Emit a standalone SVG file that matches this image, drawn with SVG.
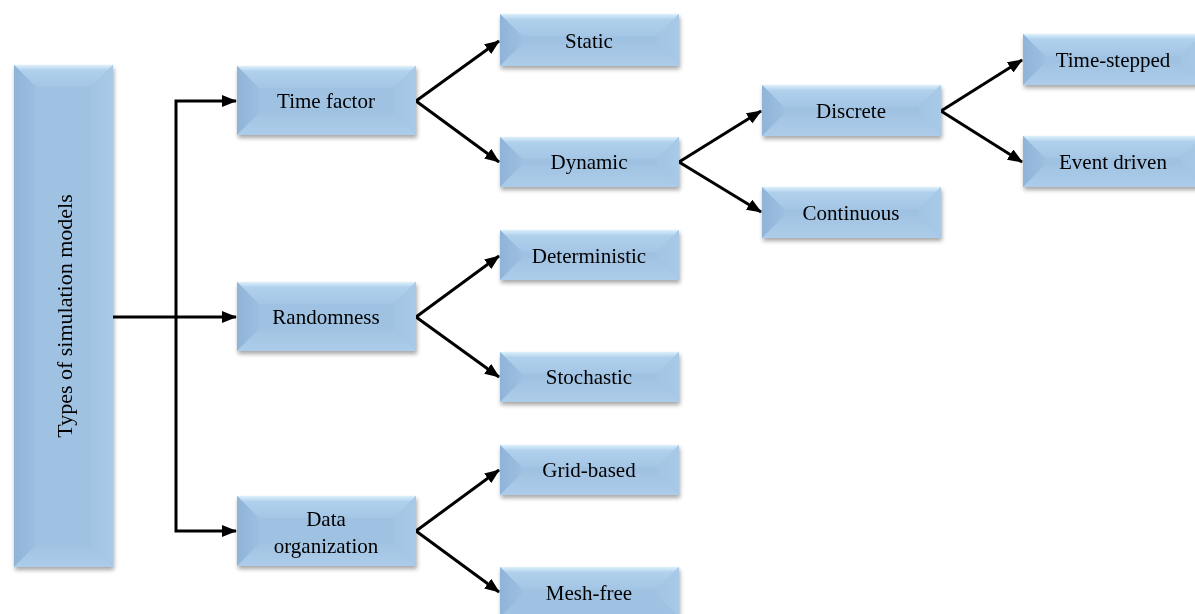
<svg xmlns="http://www.w3.org/2000/svg" width="1195" height="614" viewBox="0 0 1195 614">
<defs>
<linearGradient id="gTop" x1="0" y1="0" x2="0" y2="1"><stop offset="0" stop-color="#dcf0fc"/><stop offset="0.25" stop-color="#b0d0ec"/><stop offset="1" stop-color="#a4c6e5"/></linearGradient>
<linearGradient id="gLeft" x1="0" y1="0" x2="1" y2="0"><stop offset="0" stop-color="#8fb4d8"/><stop offset="1" stop-color="#9dbfe0"/></linearGradient>
<linearGradient id="gRight" x1="1" y1="0" x2="0" y2="0"><stop offset="0" stop-color="#a8c9e8"/><stop offset="1" stop-color="#a3c5e4"/></linearGradient>
<linearGradient id="gBot" x1="0" y1="1" x2="0" y2="0"><stop offset="0" stop-color="#acccea"/><stop offset="1" stop-color="#a2c3e2"/></linearGradient>
<filter id="sh" x="-10%" y="-10%" width="120%" height="140%"><feDropShadow dx="1" dy="3" stdDeviation="2" flood-color="#000" flood-opacity="0.35"/></filter>
<marker id="ah" viewBox="0 0 15 12" refX="14" refY="6" markerWidth="15" markerHeight="12" markerUnits="userSpaceOnUse" orient="auto"><path d="M0,0 L15,6 L0,12 z" fill="#000"/></marker>
</defs>
<style>
.face{fill:#a0c2e2}
.t{fill:url(#gTop)}.l{fill:url(#gLeft)}.r{fill:url(#gRight)}.b{fill:url(#gBot)}
.lbl{font-family:"Liberation Serif","Times New Roman",serif;font-size:21px;fill:#000;text-anchor:middle;dominant-baseline:central}
.root{font-size:22px}
.c{fill:none;stroke:#000;stroke-width:3}
.ca{fill:none;stroke:#000;stroke-width:3;marker-end:url(#ah)}
</style>

<g id="connectors">
<polyline class="c" points="113,317 176,317"/>
<polyline class="ca" points="176,317 176,101 236,101"/>
<polyline class="ca" points="176,317 236,317"/>
<polyline class="ca" points="176,317 176,531 236,531"/>
<line class="ca" x1="416" y1="101" x2="499" y2="41"/>
<line class="ca" x1="416" y1="101" x2="499" y2="162"/>
<line class="ca" x1="679" y1="162" x2="761" y2="111"/>
<line class="ca" x1="679" y1="162" x2="761" y2="212"/>
<line class="ca" x1="941" y1="111" x2="1022" y2="60"/>
<line class="ca" x1="941" y1="111" x2="1022" y2="162"/>
<line class="ca" x1="416" y1="317" x2="499" y2="256"/>
<line class="ca" x1="416" y1="317" x2="499" y2="377"/>
<line class="ca" x1="416" y1="531" x2="499" y2="470"/>
<line class="ca" x1="416" y1="531" x2="499" y2="592"/>
</g>

<g id="root" filter="url(#sh)">
<rect class="face" x="14" y="65" width="99" height="502"/>
<polygon class="t" points="14,65 113,65 91,87 36,87"/>
<polygon class="l" points="14,65 36,87 36,545 14,567"/>
<polygon class="r" points="113,65 113,567 91,545 91,87"/>
<polygon class="b" points="14,567 113,567 91,545 36,545"/>
<text class="lbl root" transform="translate(64,316) rotate(-90)">Types of simulation  models</text>
</g>

<g id="time-factor" filter="url(#sh)">
<rect class="face" x="237" y="66" width="179" height="69"/>
<polygon class="t" points="237,66 416,66 394,88 259,88"/>
<polygon class="l" points="237,66 259,88 259,113 237,135"/>
<polygon class="r" points="416,66 416,135 394,113 394,88"/>
<polygon class="b" points="237,135 416,135 394,113 259,113"/>
<text class="lbl" x="326" y="101">Time factor</text>
</g>

<g id="randomness" filter="url(#sh)">
<rect class="face" x="237" y="282" width="179" height="69"/>
<polygon class="t" points="237,282 416,282 394,304 259,304"/>
<polygon class="l" points="237,282 259,304 259,329 237,351"/>
<polygon class="r" points="416,282 416,351 394,329 394,304"/>
<polygon class="b" points="237,351 416,351 394,329 259,329"/>
<text class="lbl" x="326" y="317">Randomness</text>
</g>

<g id="data-organization" filter="url(#sh)">
<rect class="face" x="237" y="496" width="179" height="70"/>
<polygon class="t" points="237,496 416,496 394,518 259,518"/>
<polygon class="l" points="237,496 259,518 259,544 237,566"/>
<polygon class="r" points="416,496 416,566 394,544 394,518"/>
<polygon class="b" points="237,566 416,566 394,544 259,544"/>
<text class="lbl" x="326" y="519">Data</text>
<text class="lbl" x="326" y="546">organization</text>
</g>

<g id="static" filter="url(#sh)">
<rect class="face" x="500" y="14" width="179" height="52"/>
<polygon class="t" points="500,14 679,14 657,36 522,36"/>
<polygon class="l" points="500,14 522,36 522,44 500,66"/>
<polygon class="r" points="679,14 679,66 657,44 657,36"/>
<polygon class="b" points="500,66 679,66 657,44 522,44"/>
<text class="lbl" x="589" y="41">Static</text>
</g>

<g id="dynamic" filter="url(#sh)">
<rect class="face" x="500" y="137" width="179" height="50"/>
<polygon class="t" points="500,137 679,137 657,159 522,159"/>
<polygon class="l" points="500,137 522,159 522,165 500,187"/>
<polygon class="r" points="679,137 679,187 657,165 657,159"/>
<polygon class="b" points="500,187 679,187 657,165 522,165"/>
<text class="lbl" x="589" y="162">Dynamic</text>
</g>

<g id="deterministic" filter="url(#sh)">
<rect class="face" x="500" y="230" width="179" height="50"/>
<polygon class="t" points="500,230 679,230 657,252 522,252"/>
<polygon class="l" points="500,230 522,252 522,258 500,280"/>
<polygon class="r" points="679,230 679,280 657,258 657,252"/>
<polygon class="b" points="500,280 679,280 657,258 522,258"/>
<text class="lbl" x="589" y="256">Deterministic</text>
</g>

<g id="stochastic" filter="url(#sh)">
<rect class="face" x="500" y="352" width="179" height="50"/>
<polygon class="t" points="500,352 679,352 657,374 522,374"/>
<polygon class="l" points="500,352 522,374 522,380 500,402"/>
<polygon class="r" points="679,352 679,402 657,380 657,374"/>
<polygon class="b" points="500,402 679,402 657,380 522,380"/>
<text class="lbl" x="589" y="377">Stochastic</text>
</g>

<g id="grid-based" filter="url(#sh)">
<rect class="face" x="500" y="445" width="179" height="50"/>
<polygon class="t" points="500,445 679,445 657,467 522,467"/>
<polygon class="l" points="500,445 522,467 522,473 500,495"/>
<polygon class="r" points="679,445 679,495 657,473 657,467"/>
<polygon class="b" points="500,495 679,495 657,473 522,473"/>
<text class="lbl" x="589" y="470">Grid-based</text>
</g>

<g id="mesh-free" filter="url(#sh)">
<rect class="face" x="500" y="567" width="179" height="50"/>
<polygon class="t" points="500,567 679,567 657,589 522,589"/>
<polygon class="l" points="500,567 522,589 522,595 500,617"/>
<polygon class="r" points="679,567 679,617 657,595 657,589"/>
<text class="lbl" x="589" y="593">Mesh-free</text>
</g>

<g id="discrete" filter="url(#sh)">
<rect class="face" x="762" y="85" width="179" height="51"/>
<polygon class="t" points="762,85 941,85 919,107 784,107"/>
<polygon class="l" points="762,85 784,107 784,114 762,136"/>
<polygon class="r" points="941,85 941,136 919,114 919,107"/>
<polygon class="b" points="762,136 941,136 919,114 784,114"/>
<text class="lbl" x="851" y="111">Discrete</text>
</g>

<g id="continuous" filter="url(#sh)">
<rect class="face" x="762" y="187" width="179" height="51"/>
<polygon class="t" points="762,187 941,187 919,209 784,209"/>
<polygon class="l" points="762,187 784,209 784,216 762,238"/>
<polygon class="r" points="941,187 941,238 919,216 919,209"/>
<polygon class="b" points="762,238 941,238 919,216 784,216"/>
<text class="lbl" x="851" y="213">Continuous</text>
</g>

<g id="time-stepped" filter="url(#sh)">
<rect class="face" x="1023" y="34" width="180" height="51"/>
<polygon class="t" points="1023,34 1203,34 1181,56 1045,56"/>
<polygon class="l" points="1023,34 1045,56 1045,63 1023,85"/>
<polygon class="r" points="1203,34 1203,85 1181,63 1181,56"/>
<polygon class="b" points="1023,85 1203,85 1181,63 1045,63"/>
<text class="lbl" x="1113" y="60">Time-stepped</text>
</g>

<g id="event-driven" filter="url(#sh)">
<rect class="face" x="1023" y="136" width="180" height="51"/>
<polygon class="t" points="1023,136 1203,136 1181,158 1045,158"/>
<polygon class="l" points="1023,136 1045,158 1045,165 1023,187"/>
<polygon class="r" points="1203,136 1203,187 1181,165 1181,158"/>
<polygon class="b" points="1023,187 1203,187 1181,165 1045,165"/>
<text class="lbl" x="1113" y="162">Event driven</text>
</g>
</svg>
